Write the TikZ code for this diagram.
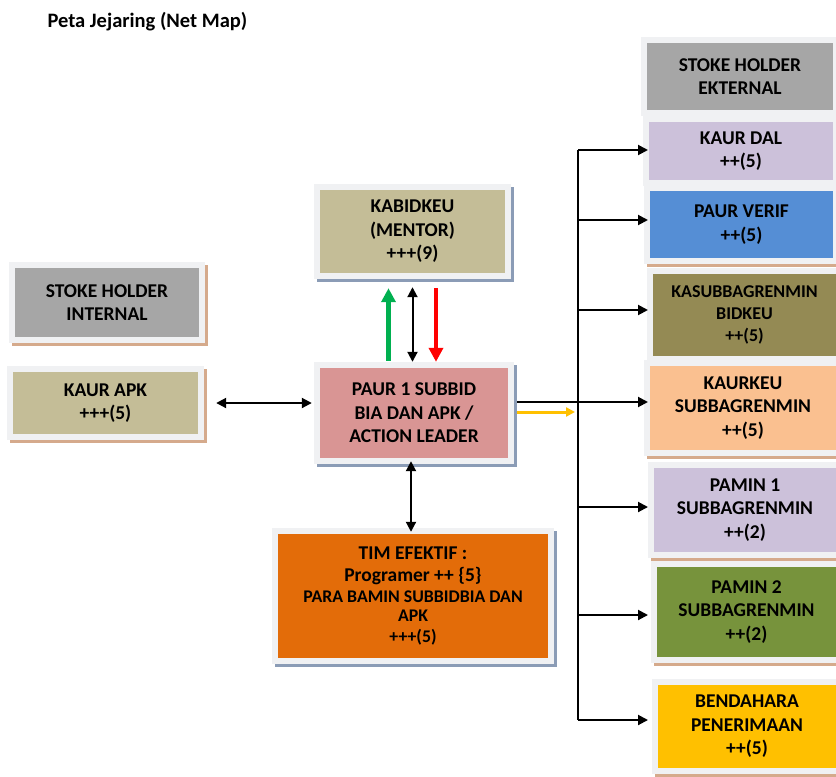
\documentclass[tikz,border=0pt]{standalone}
\usepackage{fontspec}
\setmainfont{Carlito}
\usetikzlibrary{arrows.meta}
\definecolor{tanc}{HTML}{C4BD97}
\definecolor{grayc}{HTML}{A6A6A6}
\definecolor{pinkc}{HTML}{D99594}
\definecolor{orangec}{HTML}{E36C09}
\definecolor{lavc}{HTML}{CCC1DA}
\definecolor{bluec}{HTML}{558ED5}
\definecolor{olivec}{HTML}{948A54}
\definecolor{peachc}{HTML}{FAC090}
\definecolor{greenc}{HTML}{77933C}
\definecolor{yellowc}{HTML}{FFC000}
\definecolor{framec}{HTML}{F0F1F3}
\definecolor{tanshc}{HTML}{D5AA8C}
\definecolor{blueshc}{HTML}{8B9CB6}
\definecolor{garrc}{HTML}{00B050}
\definecolor{rarrc}{HTML}{FF0000}
\tikzset{
  nbox/.style={rectangle, inner sep=0pt, align=center,
    font=\bfseries\fontsize{19.5}{23.5}\selectfont,
    preaction={draw=#1, line width=12pt, transform canvas={shift={(3pt,-3pt)}}},
    preaction={draw=framec, line width=12pt}},
  conn/.style={line width=2pt, black},
  arr/.style={conn, -{Triangle[length=10pt,width=10pt]}},
  darr/.style={conn, {Triangle[length=10pt,width=10pt]}-{Triangle[length=10pt,width=10pt]}},
  fatarr/.style={line width=4.5pt, -{Triangle[length=14pt,width=14pt]}},
}
\begin{document}
\begin{tikzpicture}[x=1pt,y=-1pt]
\useasboundingbox (0,0) rectangle (836,777);
\fill[white] (0,0) rectangle (836,777);

\node[anchor=base west, font=\bfseries\fontsize{20.5}{24}\selectfont] (title) at (44,27) {Peta Jejaring (Net Map)};

% left
\node[nbox=tanshc, fill=grayc, minimum width=184pt, minimum height=69pt] (shi) at (107,302.5) {STOKE HOLDER\\INTERNAL};
\node[nbox=tanshc, fill=tanc, minimum width=185pt, minimum height=62pt] (kapk) at (105.5,403) {KAUR APK\\+++(5)};

% middle
\node[nbox=blueshc, fill=tanc, minimum width=185pt, minimum height=83pt] (kab) at (412.5,231.5) {KABIDKEU\\(MENTOR)\\+++(9)};
\node[nbox=blueshc, fill=pinkc, minimum width=188pt, minimum height=90pt] (paur) at (414,413) {PAUR 1 SUBBID\\BIA DAN APK /\\ACTION LEADER};
\node[nbox=blueshc, fill=orangec, minimum width=270pt, minimum height=124pt] (tim) at (413,596)
  {TIM EFEKTIF :\\[-1pt]Programer ++ \{5\}\\[-3pt]{\fontsize{17.8}{21}\selectfont PARA BAMIN SUBBIDBIA DAN}\\[-4pt]{\fontsize{17.8}{21}\selectfont APK}\\[-3pt]{\fontsize{17.8}{21}\selectfont +++(5)}};

% right
\node[nbox=framec, fill=grayc, minimum width=186pt, minimum height=67pt] (she) at (740,76.5) {STOKE HOLDER\\EKTERNAL};
\node[nbox=framec, fill=lavc, minimum width=184pt, minimum height=58pt] (kdal) at (741,151) {KAUR DAL\\++(5)};
\node[nbox=tanshc, fill=bluec, minimum width=183pt, minimum height=67pt] (pverif) at (741.5,224.5) {PAUR VERIF\\++(5)};
\node[nbox=framec, fill=olivec, minimum width=183pt, minimum height=82pt, font=\bfseries\fontsize{18}{22}\selectfont] (kasub) at (744.5,315) {KASUBBAGRENMIN\\BIDKEU\\++(5)};
\node[nbox=tanshc, fill=peachc, minimum width=186pt, minimum height=84pt] (kkeu) at (743,408) {KAURKEU\\SUBBAGRENMIN\\++(5)};
\node[nbox=tanshc, fill=lavc, minimum width=182pt, minimum height=84pt] (pam1) at (745,510) {PAMIN 1\\SUBBAGRENMIN\\++(2)};
\node[nbox=tanshc, fill=greenc, minimum width=179pt, minimum height=90pt] (pam2) at (746.5,612) {PAMIN 2\\SUBBAGRENMIN\\++(2)};
\node[nbox=tanshc, fill=yellowc, minimum width=178pt, minimum height=83pt] (bend) at (747,726.5) {BENDAHARA\\PENERIMAAN\\++(5)};

% connectors
\coordinate (bx) at (578,0);
\coordinate (tipx) at (648,0);

\draw[darr, shorten <=18pt, shorten >=8pt] (kapk.east) -- (kapk.east -| paur.west);
\draw[darr, shorten <=14pt, shorten >=6pt] (kab.south) -- (kab.south |- paur.north);
\draw[fatarr, garrc, shorten <=7pt, shorten >=15pt] ([xshift=-24pt]kab.south |- paur.north) -- ([xshift=-24pt]kab.south);
\draw[fatarr, rarrc, shorten <=15pt, shorten >=6pt] ([xshift=23.5pt]kab.south) -- ([xshift=23.5pt]kab.south |- paur.north);
\draw[darr, shorten <=3pt, shorten >=2pt] ([xshift=-3pt]paur.south) -- ([xshift=-3pt]paur.south |- tim.north);

\draw[conn] ([yshift=1pt]bx |- kdal) -- ([yshift=6.5pt]bx |- bend);
\foreach \t/\o in {kdal/1, pverif/4.5, kasub/5, kkeu/6, pam1/3, pam2/-3, bend/6.5}{
  \draw[arr] ([yshift=\o pt]bx |- \t) -- ([yshift=\o pt]tipx |- \t);
}
\draw[conn, shorten <=9pt] ([yshift=11pt]paur.east) -- ([yshift=11pt]paur.east -| bx);
\draw[line width=3pt, yellowc, -{Triangle[length=9pt,width=9pt]}, shorten <=9pt, shorten >=3pt] ([yshift=1pt]paur.east) -- ([yshift=1pt]paur.east -| bx);
\end{tikzpicture}
\end{document}
